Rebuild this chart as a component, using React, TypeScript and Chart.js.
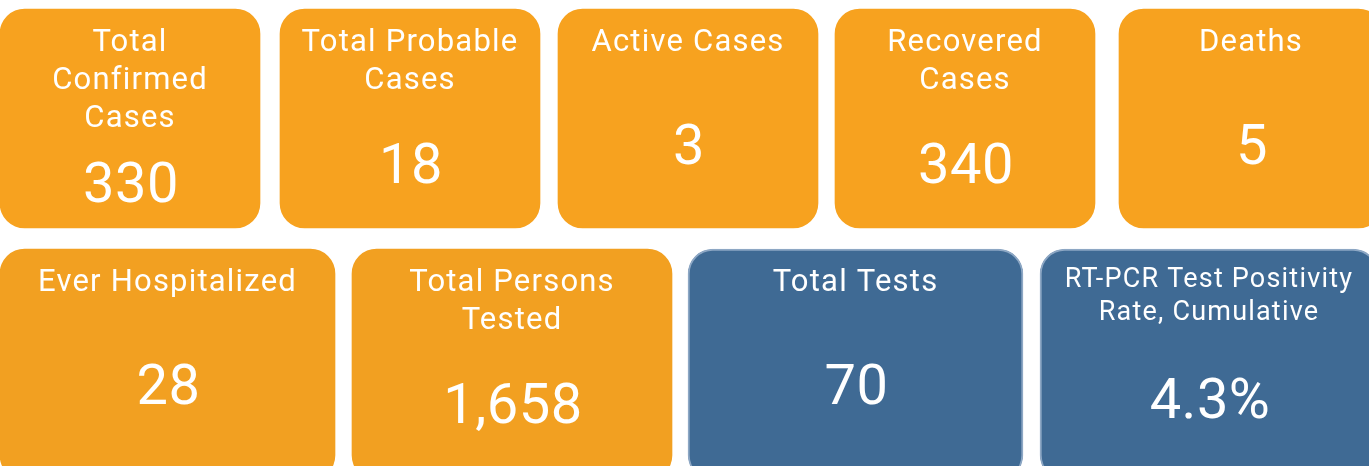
import React, { useEffect, useRef } from "react";
import { Chart, registerables } from "chart.js";

Chart.register(...registerables);

// ---- data ----
const row1Titles: string[][] = [
  ["Total", "Confirmed", "Cases"],
  ["Total Probable", "Cases"],
  ["Active Cases"],
  ["Recovered", "Cases"],
  ["Deaths"],
];
const row1Values: string[] = ["330", "18", "3", "340", "5"];

const row2Titles: string[][] = [
  ["Ever Hospitalized"],
  ["Total Persons", "Tested"],
  ["Total Tests"],
  ["RT-PCR Test Positivity", "Rate, Cumulative"],
];
const row2Values: string[] = ["28", "1,658", "70", "4.3%"];

// ---- layout (tile extents on a pixel-unit layout scale) ----
const W = 1369;
const H = 466;
const row1Spans: [number, number][] = [
  [0, 260],
  [280, 540],
  [558, 818],
  [835, 1095],
  [1119, 1383],
];
const row2Spans: [number, number][] = [
  [0, 335],
  [352, 672],
  [688, 1023],
  [1040, 1378],
];
const row1Band = { top: 9, bottom: 228 };
const row2Band = { top: 249, bottom: 480 };

const ORANGE1 = "#F7A21F";
const ORANGE2 = "#F2A021";
const BLUE = "#3F6A94";
const BLUE_BORDER = "#8DA7C4";

const row1Colors = [ORANGE1, ORANGE1, ORANGE1, ORANGE1, ORANGE1];
const row2Colors = [ORANGE2, ORANGE2, BLUE, BLUE];
const row2Borders = [ORANGE2, ORANGE2, BLUE_BORDER, BLUE_BORDER];
const row2BorderWidths = [0, 0, 2, 2];
const row2TitleSizes = [31, 31, 31, 27];

const FONT = "Roboto, 'Open Sans', sans-serif";

const tileText = {
  id: "tileText",
  afterDatasetsDraw(chart: any) {
    const ctx = chart.ctx as CanvasRenderingContext2D;
    chart.data.datasets.forEach((ds: any, di: number) => {
      const meta = chart.getDatasetMeta(di);
      meta.data.forEach((el: any, i: number) => {
        const left = Math.min(el.x, el.base);
        const right = Math.max(el.x, el.base);
        const top = el.y - el.height / 2;
        const cx = (left + right) / 2;
        const lines: string[] = ds.titles[i];
        const tSize: number = ds.titleSizes[i];
        const lh = tSize * 1.23;
        ctx.save();
        ctx.fillStyle = "#FFFFFF";
        ctx.textAlign = "center";
        ctx.textBaseline = "alphabetic";
        (ctx as any).letterSpacing = "1.2px";
        ctx.font = `400 ${tSize}px ${FONT}`;
        lines.forEach((ln, li) => {
          ctx.fillText(ln, cx, top + 11 + tSize + li * lh);
        });
        ctx.font = `400 56px ${FONT}`;
        (ctx as any).letterSpacing = "0.5px";
        const vy = top + 136 + (lines.length * lh) / 2;
        ctx.fillText(ds.values[i], cx + 1, vy);
        ctx.restore();
      });
    });
  },
};

export default function App() {
  const ref = useRef<HTMLCanvasElement | null>(null);
  useEffect(() => {
    if (!ref.current) return;
    const c1 = (row1Band.top + row1Band.bottom) / 2;
    const c2 = (row2Band.top + row2Band.bottom) / 2;
    const chart = new Chart(ref.current, {
      type: "bar",
      data: {
        datasets: [
          {
            label: "Row 1",
            data: row1Spans.map((s) => ({ x: s, y: c1 })) as any,
            backgroundColor: row1Colors,
            borderColor: row1Colors,
            borderWidth: 0,
            borderRadius: 25,
            borderSkipped: false,
            barThickness: row1Band.bottom - row1Band.top,
            grouped: false,
            titles: row1Titles,
            values: row1Values,
            titleSizes: row1Titles.map(() => 31),
          } as any,
          {
            label: "Row 2",
            data: row2Spans.map((s) => ({ x: s, y: c2 })) as any,
            backgroundColor: row2Colors,
            borderColor: row2Borders,
            borderWidth: row2BorderWidths,
            borderRadius: 25,
            borderSkipped: false,
            barThickness: row2Band.bottom - row2Band.top,
            grouped: false,
            titles: row2Titles,
            values: row2Values,
            titleSizes: row2TitleSizes,
          } as any,
        ],
      },
      options: {
        responsive: false,
        animation: false,
        indexAxis: "y",
        layout: { padding: 0 },
        plugins: { legend: { display: false }, tooltip: { enabled: false } },
        scales: {
          x: { type: "linear", min: 0, max: W, display: false, offset: false },
          y: { type: "linear", min: 0, max: H, reverse: true, display: false, offset: false },
        },
      },
      plugins: [tileText],
    });
    return () => chart.destroy();
  }, []);
  return (
    <div style={{ position: "absolute", left: 0, top: 0, width: W, height: H, background: "#fff" }}>
      <canvas ref={ref} width={W} height={H} style={{ display: "block" }} />
    </div>
  );
}
